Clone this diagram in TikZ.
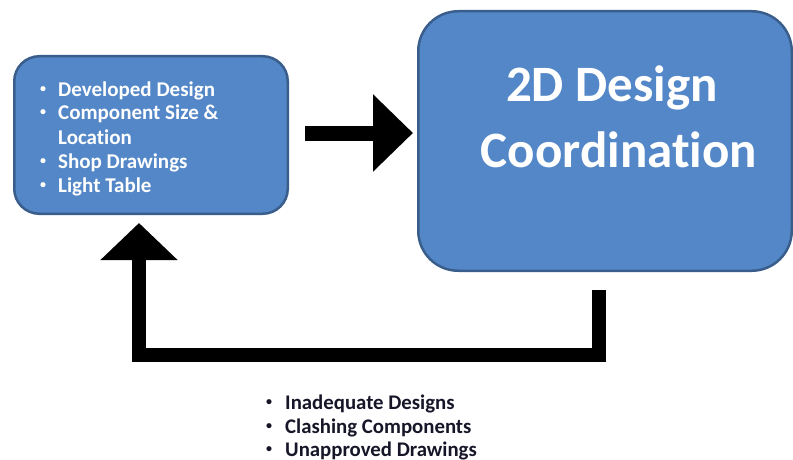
\documentclass[tikz,border=0pt]{standalone}
\usepackage{fontspec}
\setmainfont{Carlito}[Ligatures={NoCommon}]
\usetikzlibrary{arrows.meta}
\definecolor{boxfill}{RGB}{84,135,199}
\definecolor{boxedge}{RGB}{58,94,140}
\definecolor{darktxt}{RGB}{22,22,40}
\newcommand{\smbul}{\raisebox{4pt}{\fontsize{12}{12}\selectfont•}}
\begin{document}
\begin{tikzpicture}[x=1pt,y=-1pt,
  box/.style={fill=boxfill, draw=boxedge, line width=2.5pt, inner sep=0pt},
  lefttxt/.style={anchor=base west, inner sep=0pt, text=white, font=\fontsize{21}{24}\selectfont\bfseries},
  bottxt/.style={anchor=base west, inner sep=0pt, text=darktxt, font=\fontsize{20.8}{24}\selectfont\bfseries},
  bigtxt/.style={anchor=base, inner sep=0pt, text=white, font=\fontsize{51}{65}\selectfont\bfseries},
  fat/.style={line width=#1, line join=miter, draw=black}
]
\useasboundingbox (0,0) rectangle (793,460);

% boxes
\node[box, rounded corners=25pt, minimum width=273.5pt, minimum height=157.5pt] (left) at (151,135) {};
\node[box, rounded corners=40pt, minimum width=373.5pt, minimum height=259.5pt] (big) at (605,141) {};

% left box text
\node[lefttxt] (l1) at (40,96) {\makebox[18pt][l]{\smbul}Developed Design};
\node[lefttxt] (l2) at (40,120) {\makebox[18pt][l]{\smbul}Component Size \&};
\node[lefttxt] (l3) at (58,144) {Location};
\node[lefttxt] (l4) at (40,168) {\makebox[18pt][l]{\smbul}Shop Drawings};
\node[lefttxt] (l5) at (40,192) {\makebox[18pt][l]{\smbul}Light Table};

% big box text
\node[bigtxt] (g1) at (612,102) {2D Design};
\node[bigtxt] (g2) at (619,167) {Coordination};

% middle arrow
\coordinate (m1) at (305,133);
\coordinate (m2) at (413,133);
\draw[fat=15pt, -{Triangle[length=40pt,width=75pt]}] (m1) -- (m2);

% feedback arrow
\coordinate (f0) at (598.5,290);
\coordinate (fc1) at (598.5,355);
\coordinate (fc2) at (139,355);
\coordinate (f1) at (139,223);
\draw[fat=14pt, -{Triangle[length=37pt,width=75pt]}] (f0) -- (fc1) -- (fc2) -- (f1);

% bottom text
\node[bottxt] (b1) at (266,409) {\makebox[19pt][l]{\smbul}Inadequate Designs};
\node[bottxt] (b2) at (266,433) {\makebox[19pt][l]{\smbul}Clashing Components};
\node[bottxt] (b3) at (266,456) {\makebox[19pt][l]{\smbul}Unapproved Drawings};
\end{tikzpicture}
\end{document}
